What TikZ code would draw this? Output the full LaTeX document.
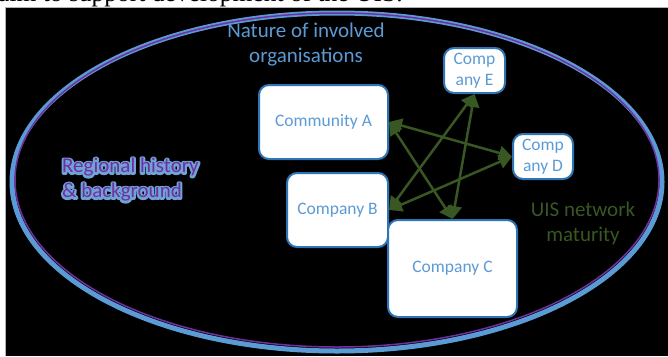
\documentclass[tikz,border=0pt]{standalone}
\usepackage{fontspec}
\setmainfont{Carlito}
\newfontfamily\serifbody{Liberation Serif}
\usetikzlibrary{arrows.meta}

\definecolor{boxedge}{HTML}{2E75B6}
\definecolor{lightblue}{HTML}{5B9BD5}
\definecolor{haloblue}{HTML}{6FA3D8}
\definecolor{violet}{HTML}{7030A0}
\definecolor{olive}{HTML}{385723}

% a line of text with a soft light-blue halo behind it
\newcommand\haloline[1]{%
  \rlap{\color{haloblue}\special{pdf:literal direct 2 Tr 4 w 1 j}#1\special{pdf:literal direct 0 Tr 1 w 0 j}}%
  #1}

\tikzset{
  orgbox/.style={draw=boxedge, line width=2pt, fill=white, rounded corners=10pt,
    inner sep=0pt, text=lightblue, align=center,
    font=\fontsize{17.5}{21}\selectfont},
  link/.style={draw=olive, line width=2.5pt,
    {Triangle[length=13pt,width=14pt]}-{Triangle[length=13pt,width=14pt]}},
  biglabel/.style={inner sep=0pt, font=\fontsize{21}{25}\selectfont},
}

\begin{document}
\begin{tikzpicture}[x=1pt, y=-1pt]
  \useasboundingbox (0,0) rectangle (668,356);
  \fill[white] (0,0) rectangle (668,356);

  % caption line above the figure, cut off by the page edge
  \node (intro) [anchor=base west, inner sep=0pt,
    font=\serifbody\fontsize{25.5}{30}\selectfont] at (-2,1.5)
    {aim to support development of the UIS.};

  % dark canvas with its thin grey frame
  \fill[black] (5,7) rectangle (668,356);
  \draw[gray!60, line width=0.8pt] (5,356) -- (5,7) -- (668,7);

  % context ellipse: blue outer ring and purple inner ring
  \draw[lightblue, line width=5pt] (337,182) ellipse [x radius=325pt, y radius=169pt];
  \draw[violet, line width=1.5pt] (337,180) ellipse [x radius=322pt, y radius=167pt];

  % organisations
  \node (A) [orgbox, minimum width=129pt, minimum height=74pt] at (323.5,122) {Community A};
  \node (E) [orgbox, minimum width=61pt, minimum height=45pt] at (474.5,70.5) {Comp\\any E};
  \node (D) [orgbox, minimum width=60pt, minimum height=45pt] at (543,156.5) {Comp\\any D};
  \node (B) [orgbox, minimum width=101pt, minimum height=74pt] at (337.5,210) {Company B};
  \node (C) [orgbox, minimum width=129pt, minimum height=97pt] at (452.5,268.5) {Company C};

  % links between organisations
  \draw[link] (A.east) -- (D.west);
  \draw[link] (A.east) -- (C.north);
  \draw[link] (E.south) -- (B.east);
  \draw[link] (E.south) -- (C.north);
  \draw[link] (B.east) -- (D.west);

  % labels
  \node (nature) [biglabel, text=lightblue, align=center] at (306,45)
    {Nature of involved\\organisations};
  \node (uis) [biglabel, text=olive, align=center] at (583,223)
    {UIS network\\maturity};
  \node (region) [biglabel, text=violet, align=left, anchor=west] at (62,180)
    {\haloline{Regional history}\\\haloline{\& background}};
\end{tikzpicture}
\end{document}
